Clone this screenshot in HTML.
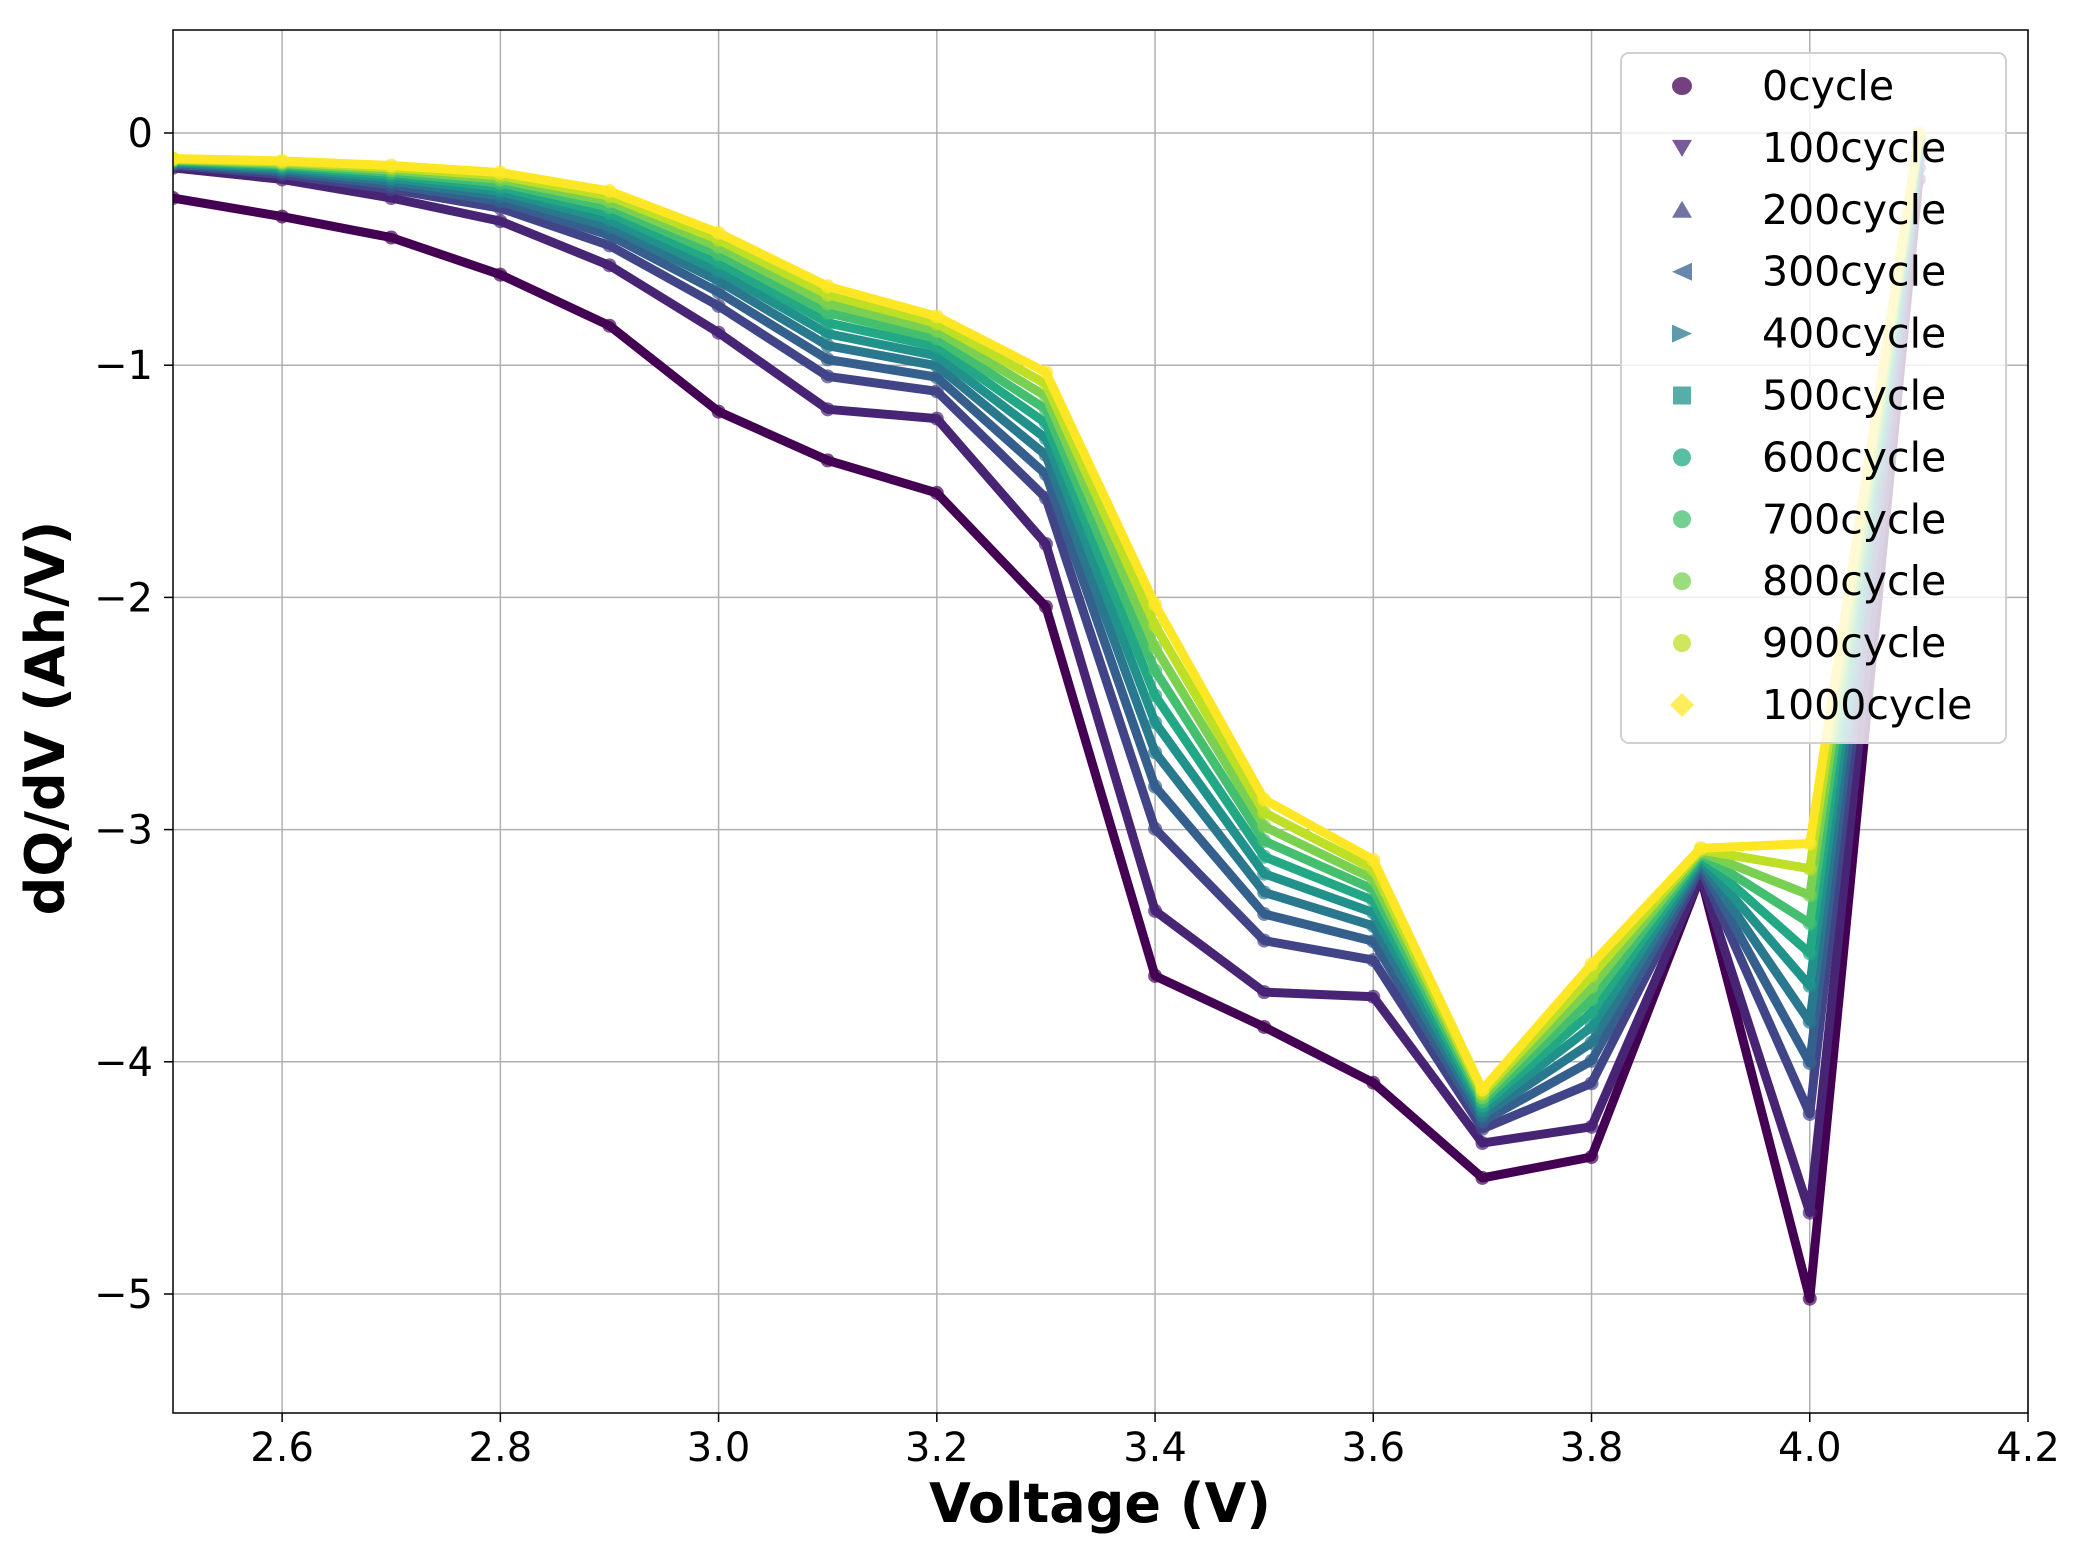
<!DOCTYPE html>
<html><head><meta charset="utf-8"><style>
body{margin:0;background:#fff;width:2076px;height:1560px;overflow:hidden}
svg text{font-family:"DejaVu Sans","Liberation Sans",sans-serif}
</style></head><body>
<svg id="s" width="2076" height="1560" xmlns="http://www.w3.org/2000/svg"></svg>
<script>
const s=document.getElementById('s');
const X0=173,X1=2028,Y0=30,Y1=1413;
const xv=v=>X0+(v-2.5)/1.7*(X1-X0);
const yv=v=>133+(-v)*232.2;
let h='';
for(let i=0;i<9;i++){const v=2.6+i*0.2;if(v>4.21)break;const x=xv(v);h+=`<line x1="${x}" y1="${Y0}" x2="${x}" y2="${Y1}" stroke="#b0b0b0" stroke-width="1.5"/>`;
h+=`<line x1="${x}" y1="${Y1}" x2="${x}" y2="${Y1+9}" stroke="#000" stroke-width="1.5"/>`;
h+=`<text x="${x}" y="1461" font-size="40" text-anchor="middle">${v.toFixed(1)}</text>`;}
for(let v=0;v>=-5;v--){const y=yv(v);h+=`<line x1="${X0}" y1="${y}" x2="${X1}" y2="${y}" stroke="#b0b0b0" stroke-width="1.5"/>`;
h+=`<line x1="${X0-9}" y1="${y}" x2="${X0}" y2="${y}" stroke="#000" stroke-width="1.5"/>`;
h+=`<text x="153" y="${y+14}" font-size="40" text-anchor="end">${v==0?'0':'\u2212'+(-v)}</text>`;}
const xs=[];for(let i=0;i<17;i++)xs.push(2.5+i*0.1);
const d0=[-0.28,-0.36,-0.45,-0.61,-0.83,-1.20,-1.41,-1.55,-2.04,-3.63,-3.85,-4.09,-4.50,-4.41,-3.20,-5.02,-0.2];
const d1=[-0.15,-0.20,-0.28,-0.38,-0.57,-0.86,-1.19,-1.23,-1.77,-3.35,-3.70,-3.72,-4.35,-4.28,-3.20,-4.65,-0.15];
const dN=[-0.11,-0.12,-0.14,-0.17,-0.25,-0.43,-0.66,-0.79,-1.03,-2.03,-2.87,-3.13,-4.12,-3.58,-3.08,-3.06,0];
const cols=['#440154','#482475','#414487','#355f8d','#2a788e','#21918c','#22a884','#44bf70','#7ad151','#bddf26','#fde725'];
const data=[d0];
for(let k=1;k<=10;k++){const t=Math.pow((k-1)/9,0.6);data.push(d1.map((v,i)=>v+(dN[i]-v)*t));}
h+=`<clipPath id="c"><rect x="${X0}" y="${Y0}" width="${X1-X0}" height="${Y1-Y0}"/></clipPath><g clip-path="url(#c)">`;
data.forEach((d,k)=>{const pts=d.map((v,i)=>xv(xs[i]).toFixed(1)+','+yv(v).toFixed(1)).join(' ');
h+=`<polyline points="${pts}" fill="none" stroke="${cols[k]}" stroke-width="9" stroke-linejoin="round"/>`;
d.forEach((v,i)=>{h+=`<circle cx="${xv(xs[i])}" cy="${yv(v)}" r="7" fill="${cols[k]}" opacity="0.7"/>`;});});
h+=`</g><rect x="${X0}" y="${Y0}" width="${X1-X0}" height="${Y1-Y0}" fill="none" stroke="#000" stroke-width="1.5"/>`;
h+=`<rect x="1621" y="53" width="385" height="690" rx="8" fill="#fff" fill-opacity="0.8" stroke="#d0d0d0" stroke-width="2"/>`;
const labs=['0cycle','100cycle','200cycle','300cycle','400cycle','500cycle','600cycle','700cycle','800cycle','900cycle','1000cycle'];
labs.forEach((l,k)=>{const y=86+k*61.9;const c=cols[k];let m;
const mx=1682;
if(k==0)m=`<ellipse cx="${mx}" cy="${y}" rx="10" ry="9" fill="${c}" opacity="0.75"/>`;
else if(k==1)m=`<polygon points="${mx-10},${y-8} ${mx+10},${y-8} ${mx},${y+9}" fill="${c}" opacity="0.75"/>`;
else if(k==2)m=`<polygon points="${mx-10},${y+8} ${mx+10},${y+8} ${mx},${y-9}" fill="${c}" opacity="0.75"/>`;
else if(k==3)m=`<polygon points="${mx+10},${y-9} ${mx+10},${y+9} ${mx-10},${y}" fill="${c}" opacity="0.75"/>`;
else if(k==4)m=`<polygon points="${mx-10},${y-9} ${mx-10},${y+9} ${mx+10},${y}" fill="${c}" opacity="0.75"/>`;
else if(k==5)m=`<rect x="${mx-9}" y="${y-9}" width="18" height="18" fill="${c}" opacity="0.75"/>`;
else if(k==10)m=`<polygon points="${mx},${y-12} ${mx+12},${y} ${mx},${y+12} ${mx-12},${y}" fill="${c}" opacity="0.75"/>`;
else m=`<circle cx="${mx}" cy="${y}" r="9" fill="${c}" opacity="0.75"/>`;
h+=m+`<text x="1762" y="${y+14}" font-size="41">${l}</text>`;});
h+=`<text x="1100" y="1522" font-size="54" font-weight="bold" text-anchor="middle">Voltage (V)</text>`;
h+=`<text transform="translate(64,718) rotate(-90)" font-size="54" font-weight="bold" text-anchor="middle">dQ/dV (Ah/V)</text>`;
s.innerHTML=h;
</script>
</body></html>
